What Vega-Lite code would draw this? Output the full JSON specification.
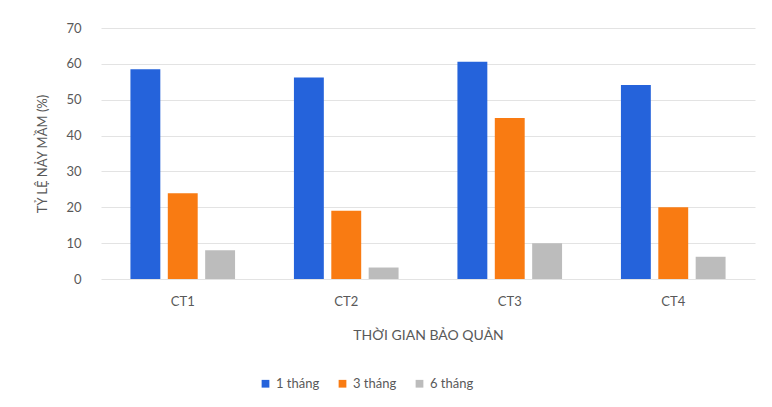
{
  "$schema": "https://vega.github.io/schema/vega-lite/v6.json",
  "autosize": "none",
  "width": 654,
  "height": 251,
  "padding": {"left": 101, "top": 28, "right": 17, "bottom": 128},
  "background": "white",
  "data": {
    "values": [
      {"ct": "CT1", "time": "1 tháng", "value": 58.5},
      {"ct": "CT1", "time": "3 tháng", "value": 23.9},
      {"ct": "CT1", "time": "6 tháng", "value": 8.0},
      {"ct": "CT2", "time": "1 tháng", "value": 56.2},
      {"ct": "CT2", "time": "3 tháng", "value": 19.0},
      {"ct": "CT2", "time": "6 tháng", "value": 3.2},
      {"ct": "CT3", "time": "1 tháng", "value": 60.6},
      {"ct": "CT3", "time": "3 tháng", "value": 44.9},
      {"ct": "CT3", "time": "6 tháng", "value": 10.0},
      {"ct": "CT4", "time": "1 tháng", "value": 54.1},
      {"ct": "CT4", "time": "3 tháng", "value": 20.0},
      {"ct": "CT4", "time": "6 tháng", "value": 6.2}
    ]
  },
  "mark": {"type": "bar"},
  "encoding": {
    "x": {
      "field": "ct", "type": "nominal",
      "scale": {"paddingInner": 0.36, "paddingOuter": 0.18},
      "axis": {
        "title": "THỜI  GIAN BẢO QUẢN",
        "labelAngle": 0, "domain": false, "ticks": false,
        "labelPadding": 16, "labelFontSize": 13, "labelColor": "#595959",
        "titleFontSize": 14, "titleFontWeight": "normal", "titleColor": "#595959",
        "titlePadding": 20
      }
    },
    "xOffset": {"field": "time", "type": "nominal", "scale": {"paddingInner": 0.2}},
    "y": {
      "field": "value", "type": "quantitative",
      "scale": {"domain": [0, 70], "nice": false},
      "axis": {
        "title": "TỶ LỆ NẢY MẦM (%)",
        "values": [0, 10, 20, 30, 40, 50, 60, 70],
        "domain": false, "ticks": false,
        "labelPadding": 20, "labelFontSize": 13, "labelColor": "#595959",
        "titleFontSize": 13, "titleFontWeight": "normal", "titleColor": "#595959",
        "titlePadding": 16,
        "gridColor": "#e3e3e3"
      }
    },
    "color": {
      "field": "time", "type": "nominal",
      "scale": {"range": ["#2563db", "#f97b12", "#bcbcbc"]},
      "legend": {
        "title": null, "orient": "none", "direction": "horizontal",
        "legendX": 158, "legendY": 349,
        "symbolType": "square", "symbolSize": 60,
        "labelFontSize": 13, "labelColor": "#595959", "columnPadding": 16
      }
    }
  },
  "config": {
    "font": "Lato",
    "view": {"stroke": null}
  }
}
